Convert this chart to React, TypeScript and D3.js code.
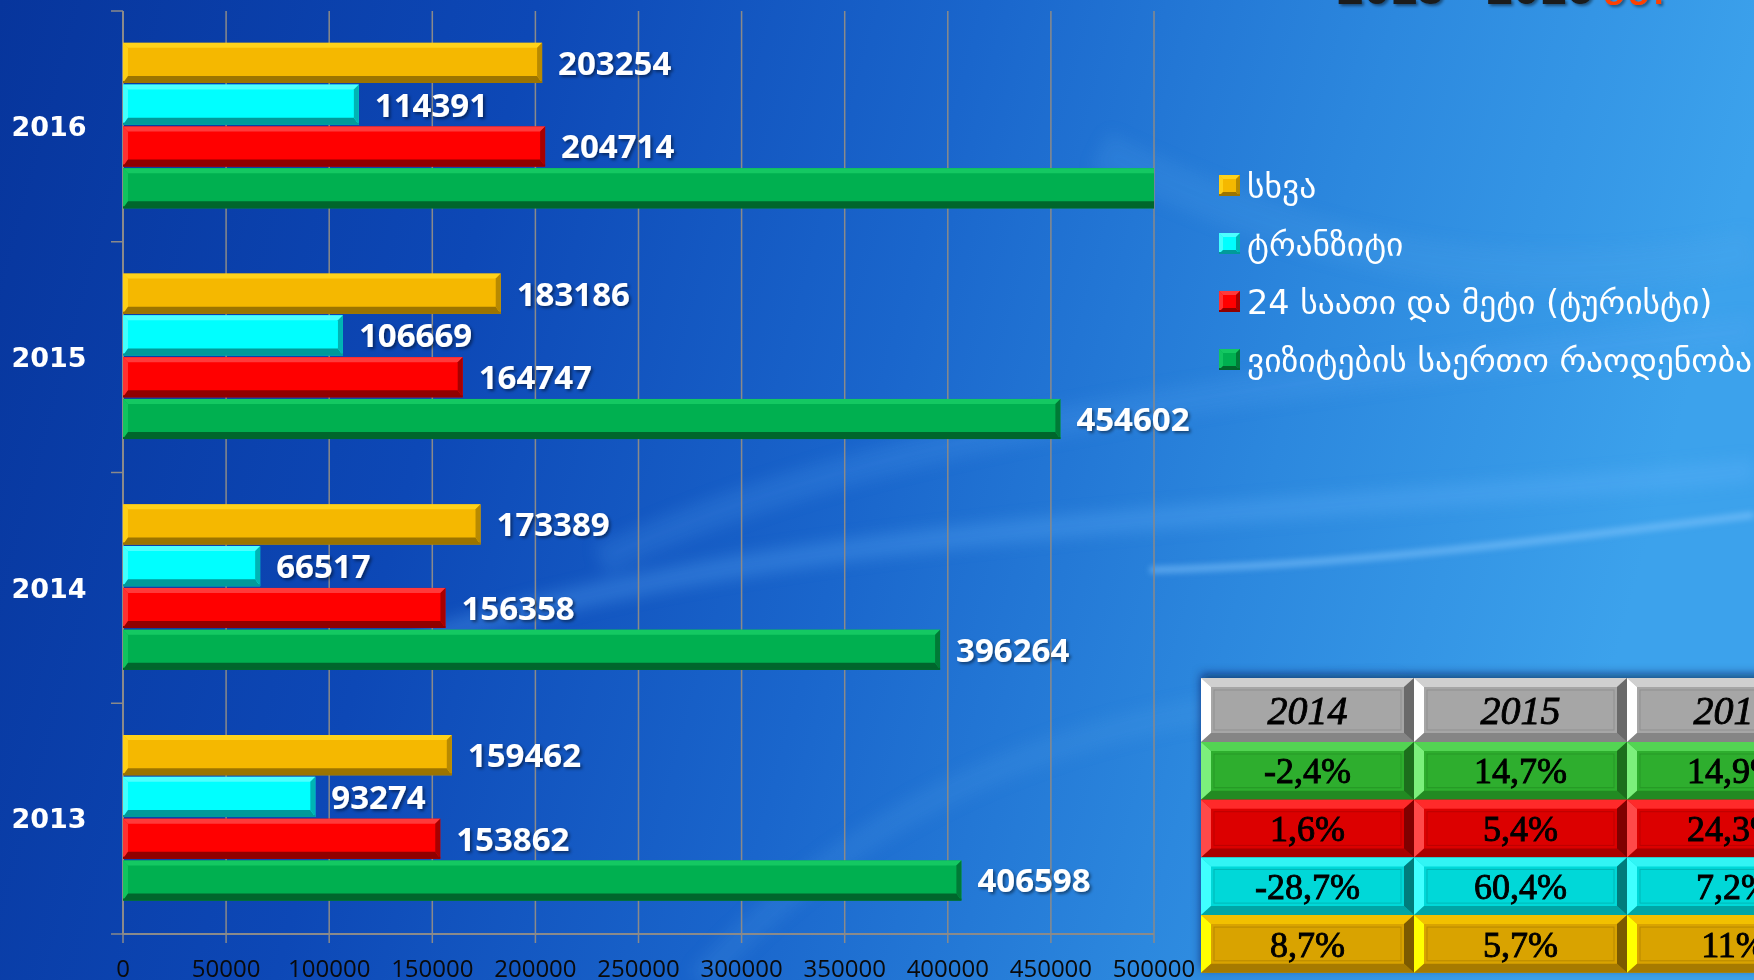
import React from "react";
import * as d3 from "d3";

const W = 1754;
const H = 980;

const years = ["2016", "2015", "2014", "2013"];
const seriesKeys = ["other", "transit", "tourist", "total"];
const seriesNames = [
  "სხვა",
  "ტრანზიტი",
  "24 საათი და მეტი (ტურისტი)",
  "ვიზიტების საერთო რაოდენობა",
];
const otherValues = [203254, 183186, 173389, 159462];
const transitValues = [114391, 106669, 66517, 93274];
const touristValues = [204714, 164747, 156358, 153862];
const totalValues = [522338, 454602, 396264, 406598];
const xTicks = [0, 50000, 100000, 150000, 200000, 250000, 300000, 350000, 400000, 450000, 500000];

const tableYears = ["2014", "2015", "2016"];
const tableTotal = ["-2,4%", "14,7%", "14,9%"];
const tableTourist = ["1,6%", "5,4%", "24,3%"];
const tableTransit = ["-28,7%", "60,4%", "7,2%"];
const tableOther = ["8,7%", "5,7%", "11%"];

const seriesValues = [otherValues, transitValues, touristValues, totalValues];

const barColors = [
  { main: "#f5b800", light: "#ffd21a", dark: "#9c7400", side: "#b88a00" },
  { main: "#00ffff", light: "#4dffff", dark: "#009a9a", side: "#00b4b4" },
  { main: "#ff0000", light: "#ff3a3a", dark: "#900000", side: "#a80000" },
  { main: "#00b050", light: "#14c862", dark: "#00662c", side: "#007a36" },
];

const tableColors = [
  { main: "#a6a6a6", light: "#d0d0d0", edge: "#ffffff", dark: "#6a6a6a" },
  { main: "#2eae2e", light: "#52d452", edge: "#7cf07c", dark: "#1a6e1a" },
  { main: "#dc0000", light: "#ff2a2a", edge: "#ff4a4a", dark: "#800000" },
  { main: "#00d8d8", light: "#30f4f4", edge: "#40ffff", dark: "#007c7c" },
  { main: "#d9a300", light: "#f2c000", edge: "#ffff00", dark: "#7c5a00" },
];

function Bevel({ x, y, w, h, c, t = 5, b = 7, l = 5, r = 5, showRight = true }: any) {
  const rr = showRight ? r : 0;
  return (
    <g>
      <rect x={x} y={y} width={w} height={h} fill={c.main} />
      <polygon points={`${x},${y} ${x + w},${y} ${x + w - rr},${y + t} ${x + l},${y + t}`} fill={c.light} />
      <polygon points={`${x},${y} ${x + l},${y + t} ${x + l},${y + h - b} ${x},${y + h}`} fill={c.light} opacity={0.85} />
      <polygon points={`${x},${y + h} ${x + l},${y + h - b} ${x + w - rr},${y + h - b} ${x + w},${y + h}`} fill={c.dark} />
      {showRight && (
        <polygon points={`${x + w},${y} ${x + w},${y + h} ${x + w - rr},${y + h - b} ${x + w - rr},${y + t}`} fill={c.side} />
      )}
      <rect x={x} y={y + h - 2} width={w} height={2} fill={c.dark} />
    </g>
  );
}

export default function App() {
  const plotTop = 11;
  const plotBottom = 934;
  const x = d3.scaleLinear().domain([0, 500000]).range([123, 1154]).clamp(true);
  const y = d3.scaleBand().domain(years).range([plotTop, plotBottom]).padding(0);
  const bw = y.bandwidth();
  const inner = d3
    .scaleBand()
    .domain(seriesKeys)
    .range([bw * 0.138, bw * 0.855])
    .paddingInner(0.04);

  const labelFont = "'Liberation Sans Narrow', 'Open Sans', Roboto, sans-serif";

  const tX = 1201;
  const colW = 213;
  const tY = 678;
  const headH = 64;
  const rowH = 57.7;
  const tableRows = [tableYears, tableTotal, tableTourist, tableTransit, tableOther];

  return (
    <svg
      width={W}
      height={H}
      style={{ position: "absolute", left: 0, top: 0, display: "block" }}
      xmlns="http://www.w3.org/2000/svg"
    >
      <defs>
        <linearGradient id="bg" x1="0" y1="0" x2="1" y2="0.15">
          <stop offset="0" stopColor="#07359c" />
          <stop offset="0.3" stopColor="#0d48b6" />
          <stop offset="0.55" stopColor="#1a66cc" />
          <stop offset="0.78" stopColor="#2c88de" />
          <stop offset="1" stopColor="#3ca2ec" />
        </linearGradient>
        <filter id="blur8" x="-20%" y="-50%" width="140%" height="200%">
          <feGaussianBlur stdDeviation="8" />
        </filter>
        <filter id="blur3" x="-20%" y="-50%" width="140%" height="200%">
          <feGaussianBlur stdDeviation="3" />
        </filter>
        <filter id="tshadow" x="-10%" y="-30%" width="130%" height="160%">
          <feDropShadow dx="2" dy="2" stdDeviation="1.5" floodColor="#000" floodOpacity="0.45" />
        </filter>
        <filter id="tblshadow" x="-10%" y="-10%" width="120%" height="120%">
          <feDropShadow dx="0" dy="-4" stdDeviation="5" floodColor="#001040" floodOpacity="0.6" />
        </filter>
      </defs>

      <rect x={0} y={0} width={W} height={H} fill="url(#bg)" />
      <g opacity={0.55} filter="url(#blur8)">
        <path d="M 420 640 C 800 520, 1250 520, 1754 470" stroke="#6ab8ff" strokeWidth={22} fill="none" opacity={0.5} />
        <path d="M 600 560 C 900 420, 1300 380, 1754 330" stroke="#5aaaf5" strokeWidth={30} fill="none" opacity={0.35} />
        <path d="M 700 980 C 900 760, 1150 700, 1400 690" stroke="#5aa8f0" strokeWidth={26} fill="none" opacity={0.3} />
        <path d="M 1100 150 C 1300 250, 1500 300, 1754 250" stroke="#58a8f0" strokeWidth={40} fill="none" opacity={0.3} />
      </g>
      <g filter="url(#blur3)" opacity={0.6}>
        <path d="M 1150 570 C 1350 565, 1550 540, 1754 515" stroke="#8ccaff" strokeWidth={6} fill="none" />
      </g>

      <text
        x={1337}
        y={4}
        fontFamily="'Liberation Sans', Arial, sans-serif"
        fontWeight="bold"
        fontSize={48}
        fill="#1b1b1b"
        filter="url(#tshadow)"
      >
        2013 - 2016
        <tspan fill="#ff4000" fontFamily="'DejaVu Sans', sans-serif" fontWeight="normal" dx={8}>წწ.</tspan>
      </text>

      {xTicks.map((t) => (
        <line key={"g" + t} x1={x(t)} x2={x(t)} y1={plotTop} y2={plotBottom} stroke="#8a8a8a" strokeWidth={1.5} />
      ))}
      <line x1={x(0)} x2={x(0)} y1={plotTop} y2={plotBottom} stroke="#8a8a8a" strokeWidth={2} />
      {years.map((yr) => (
        <line key={"yt" + yr} x1={x(0) - 12} x2={x(0)} y1={y(yr)!} y2={y(yr)!} stroke="#8a8a8a" strokeWidth={1.5} />
      ))}
      <line x1={x(0) - 12} x2={x(0)} y1={plotBottom} y2={plotBottom} stroke="#8a8a8a" strokeWidth={1.5} />
      <line x1={x(0)} x2={x(500000)} y1={plotBottom} y2={plotBottom} stroke="#8a8a8a" strokeWidth={2} />
      {xTicks.map((t) => (
        <line key={"xt" + t} x1={x(t)} x2={x(t)} y1={plotBottom} y2={plotBottom + 9} stroke="#8a8a8a" strokeWidth={1.5} />
      ))}
      {xTicks.map((t) => (
        <text
          key={"xl" + t}
          x={x(t)}
          y={977}
          textAnchor="middle"
          fontFamily={labelFont}
          fontSize={24}
          fill="#0a0a0a"
        >
          {t}
        </text>
      ))}

      {years.map((yr) => (
        <text
          key={"yl" + yr}
          x={49}
          y={y(yr)! + bw / 2}
          dy="0.36em"
          textAnchor="middle"
          fontFamily="'DejaVu Sans', Verdana, sans-serif"
          fontWeight="bold"
          fontSize={27}
          fill="#ffffff"
        >
          {yr}
        </text>
      ))}

      {years.map((yr, yi) => (
        <g key={"bars" + yr}>
          {seriesKeys.map((k, si) => {
            const v = seriesValues[si][yi];
            const by = y(yr)! + inner(k)!;
            const bh = inner.bandwidth();
            const x0 = x(0);
            const x1 = x(v);
            const clipped = v > x.domain()[1];
            return (
              <g key={k}>
                <Bevel x={x0} y={by} w={x1 - x0} h={bh} c={barColors[si]} showRight={!clipped} />
                {!clipped && (
                  <text
                    x={x1 + 16}
                    y={by + bh / 2}
                    dy="0.36em"
                    fontFamily={labelFont}
                    fontWeight="bold"
                    fontSize={33}
                    fill="#ffffff"
                    filter="url(#tshadow)"
                  >
                    {v}
                  </text>
                )}
              </g>
            );
          })}
        </g>
      ))}

      {seriesNames.map((name, i) => {
        const ly = 186 + i * 58;
        return (
          <g key={"lg" + i}>
            <Bevel x={1219} y={ly - 11} w={21} h={21} c={barColors[i]} t={4} b={4} l={4} r={4} />
            <text
              x={1247}
              y={ly}
              dy="0.36em"
              fontFamily="'DejaVu Sans', 'Noto Sans', sans-serif"
              fontSize={33.5}
              fill="#ffffff"
            >
              {name}
            </text>
          </g>
        );
      })}

      <g filter="url(#tblshadow)">
        {tableRows.map((row, ri) => {
          const ry = ri === 0 ? tY : tY + headH + (ri - 1) * rowH;
          const rh = ri === 0 ? headH : rowH;
          const c = tableColors[ri];
          return (
            <g key={"tr" + ri}>
              {row.map((val, ci) => {
                const cx = tX + ci * colW;
                return (
                  <g key={"tc" + ci}>
                    <rect x={cx} y={ry} width={colW} height={rh} fill={c.main} />
                    <polygon points={`${cx},${ry} ${cx + colW},${ry} ${cx + colW - 10},${ry + 9} ${cx + 10},${ry + 9}`} fill={c.light} />
                    <polygon points={`${cx},${ry} ${cx + 10},${ry + 9} ${cx + 10},${ry + rh - 9} ${cx},${ry + rh}`} fill={c.edge} />
                    <polygon points={`${cx},${ry + rh} ${cx + 10},${ry + rh - 9} ${cx + colW - 10},${ry + rh - 9} ${cx + colW},${ry + rh}`} fill={c.dark} opacity={0.55} />
                    <polygon points={`${cx + colW},${ry} ${cx + colW},${ry + rh} ${cx + colW - 10},${ry + rh - 9} ${cx + colW - 10},${ry + 9}`} fill={c.dark} />
                    <rect x={cx + 13} y={ry + 12} width={colW - 26} height={rh - 24} fill="none" stroke={c.dark} strokeOpacity={0.35} strokeWidth={1} />
                    <text
                      x={cx + colW / 2}
                      y={ry + rh / 2}
                      dy="0.35em"
                      textAnchor="middle"
                      fontFamily="'Liberation Serif', 'DejaVu Serif', serif"
                      fontStyle={ri === 0 ? "italic" : "normal"}
                      fontSize={ri === 0 ? 40 : 36}
                      fill="#000000"
                      stroke="#000000"
                      strokeWidth={0.9}
                    >
                      {val}
                    </text>
                  </g>
                );
              })}
            </g>
          );
        })}
      </g>
    </svg>
  );
}
